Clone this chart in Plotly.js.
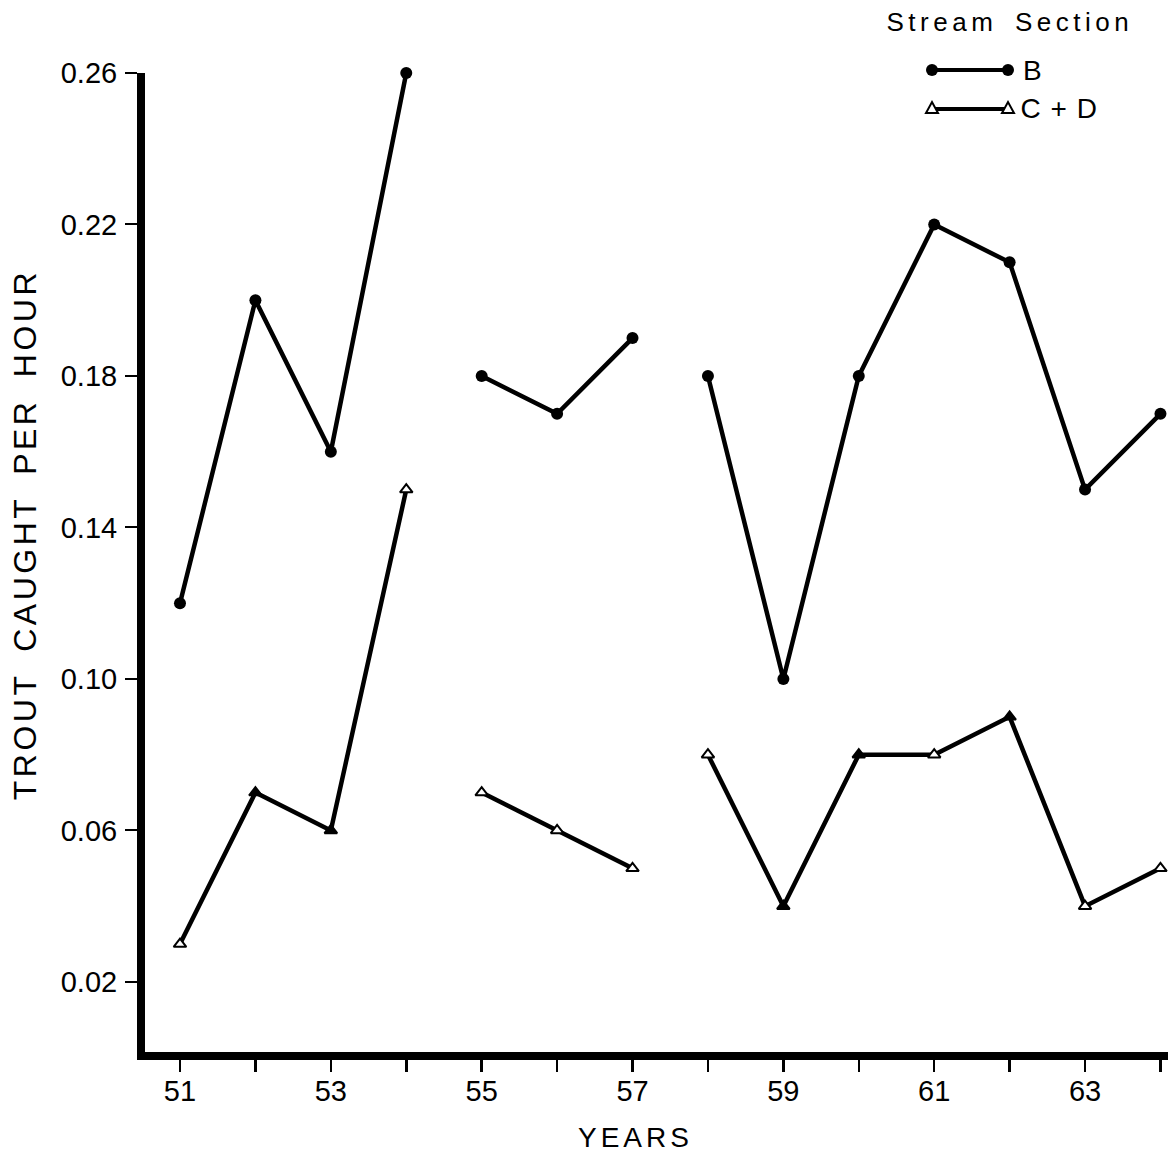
<!DOCTYPE html>
<html><head><meta charset="utf-8">
<script src="https://cdn.plot.ly/plotly-3.0.1.min.js"></script>
<style>
body{margin:0;background:#fff}
#chart{width:1168px;height:1155px}
</style>
</head><body><div id="chart"></div>
<script>
// ---- data ----
const years = [51,52,53,54,55,56,57,58,59,60,61,62,63,64];
const sectionB  = [0.12,0.20,0.16,0.26,0.18,0.17,0.19,0.18,0.10,0.18,0.22,0.21,0.15,0.17];
const sectionCD = [0.03,0.07,0.06,0.15,0.07,0.06,0.05,0.08,0.04,0.08,0.08,0.09,0.04,0.05];
// years at which a new (unconnected) run of points begins
const runStarts = [51,55,58];
const xTickVals = [51,52,53,54,55,56,57,58,59,60,61,62,63,64];
const xTickText = ['51','','53','','55','','57','','59','','61','','63',''];
const yTickVals = [0.02,0.06,0.10,0.14,0.18,0.22,0.26];
const seriesNames = ['B','C + D'];
const legendTitle = 'Stream Section';
const xTitle = 'YEARS';
const yTitle = 'TROUT CAUGHT PER HOUR';

// style: which C+D triangles look ink-filled in the print
const cdFilled = [false,true,true,false,false,false,false,false,true,true,false,true,false,false];

const FONT = '"Liberation Sans", Arial, Helvetica, sans-serif';

function runs() {
  const out = [];
  for (let r = 0; r < runStarts.length; r++) {
    const a = years.indexOf(runStarts[r]);
    const b = r + 1 < runStarts.length ? years.indexOf(runStarts[r + 1]) : years.length;
    out.push([a, b]);
  }
  return out;
}

const traces = [];
runs().forEach(([a, b]) => {
  traces.push({
    x: years.slice(a, b), y: sectionB.slice(a, b), mode: 'lines+markers', name: seriesNames[0],
    showlegend: false, cliponaxis: false,
    line: {color: '#000', width: 4.5},
    marker: {symbol: 'circle', size: 12, color: '#000'}
  });
  traces.push({
    x: years.slice(a, b), y: sectionCD.slice(a, b), mode: 'lines+markers', name: seriesNames[1],
    showlegend: false, cliponaxis: false,
    line: {color: '#000', width: 4.5},
    marker: {symbol: 'triangle-up', size: 11,
             color: cdFilled.slice(a, b).map(f => f ? '#000' : '#fff'),
             line: {color: '#000', width: 2}}
  });
});

// pixel -> paper helpers for the hand-drawn legend
const L = 145, T = 73, W = 1023, H = 979;
const px = x => (x - L) / W;
const py = y => (T + H - y) / H;

const shapes = [
  {type: 'line', xref: 'paper', yref: 'paper', x0: px(932), x1: px(1008), y0: py(70), y1: py(70), line: {color: '#000', width: 4}},
  {type: 'circle', xref: 'paper', yref: 'paper', x0: px(926), x1: px(938), y0: py(64), y1: py(76), fillcolor: '#000', line: {color: '#000', width: 0}},
  {type: 'circle', xref: 'paper', yref: 'paper', x0: px(1002), x1: px(1014), y0: py(64), y1: py(76), fillcolor: '#000', line: {color: '#000', width: 0}},
  {type: 'line', xref: 'paper', yref: 'paper', x0: px(932), x1: px(1008), y0: py(109), y1: py(109), line: {color: '#000', width: 4}},
];
[932, 1008].forEach(cx => {
  shapes.push({type: 'path', xref: 'paper', yref: 'paper',
    path: `M ${px(cx-6)} ${py(113)} L ${px(cx+6)} ${py(113)} L ${px(cx)} ${py(102)} Z`,
    fillcolor: '#fff', line: {color: '#000', width: 2}});
});

const annotations = [
  {text: legendTitle, xref: 'paper', yref: 'paper', x: px(1010), y: py(22), showarrow: false,
   xanchor: 'center', yanchor: 'middle', font: {family: FONT, size: 26, color: '#000'}},
  {text: seriesNames[0], xref: 'paper', yref: 'paper', x: px(1021), y: py(70), showarrow: false,
   xanchor: 'left', yanchor: 'middle', font: {family: FONT, size: 28, color: '#000'}},
  {text: seriesNames[1], xref: 'paper', yref: 'paper', x: px(1021), y: py(109), showarrow: false,
   xanchor: 'left', yanchor: 'middle', font: {family: FONT, size: 28, color: '#000'}},
  {text: xTitle, xref: 'paper', yref: 'paper', x: px(635), y: py(1137), showarrow: false,
   xanchor: 'center', yanchor: 'middle', font: {family: FONT, size: 28, color: '#000'}},
  {text: yTitle, xref: 'paper', yref: 'paper', x: px(25), y: py(535), showarrow: false, textangle: -90,
   xanchor: 'center', yanchor: 'middle', font: {family: FONT, size: 32, color: '#000'}}
];

const layout = {
  width: 1168, height: 1155,
  margin: {l: L, r: 1168 - L - W, t: T, b: 1155 - T - H, pad: 0},
  paper_bgcolor: '#fff', plot_bgcolor: '#fff',
  showlegend: false,
  font: {family: FONT, color: '#000', size: 29},
  xaxis: {
    range: [50.536, 64.10], showgrid: false, zeroline: false,
    showline: true, linecolor: '#000', linewidth: 8,
    tickmode: 'array', tickvals: xTickVals, ticktext: xTickText,
    ticks: 'outside', ticklen: 12, tickwidth: 2.5, tickcolor: '#000',
    ticklabelstandoff: -6,
    tickfont: {family: FONT, size: 29, color: '#000'}
  },
  yaxis: {
    range: [0.0015, 0.26], showgrid: false, zeroline: false,
    showline: true, linecolor: '#000', linewidth: 8,
    tickmode: 'array', tickvals: yTickVals, tickformat: '.2f',
    ticks: 'outside', ticklen: 12, tickwidth: 2, tickcolor: '#000',
    ticklabelstandoff: 2,
    tickfont: {family: FONT, size: 29, color: '#000'}
  },
  shapes: shapes,
  annotations: annotations
};

Plotly.newPlot('chart', traces, layout, {staticPlot: true}).then(gd => {
  const spacing = {0: ['4.5px', '6px'], 2: ['1px', '0px'], 3: ['4px', '0px'], 4: ['3.5px', '9px']};
  gd.querySelectorAll('g.annotation').forEach(g => {
    const i = g.getAttribute('data-index');
    if (spacing[i]) {
      g.querySelectorAll('text').forEach(t => {
        t.style.letterSpacing = spacing[i][0];
        t.style.wordSpacing = spacing[i][1];
      });
    }
  });
});
</script>
</body></html>
